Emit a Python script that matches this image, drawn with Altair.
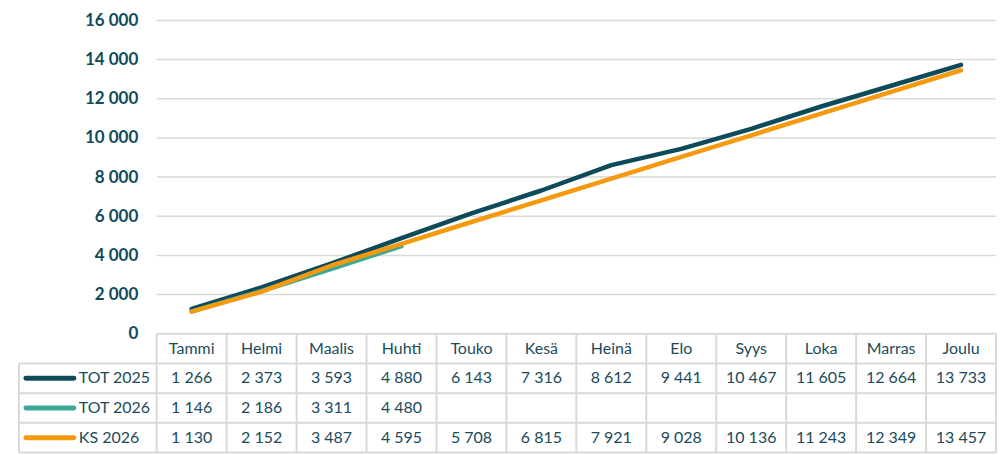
import altair as alt
import pandas as pd

months = ["Tammi", "Helmi", "Maalis", "Huhti", "Touko", "Kesä", "Heinä",
          "Elo", "Syys", "Loka", "Marras", "Joulu"]
tot_2025 = [1266, 2373, 3593, 4880, 6143, 7316, 8612, 9441, 10467, 11605, 12664, 13733]
tot_2026 = [1146, 2186, 3311, 4480]
ks_2026 = [1130, 2152, 3487, 4595, 5708, 6815, 7921, 9028, 10136, 11243, 12349, 13457]
series_names = ["TOT 2025", "TOT 2026", "KS 2026"]
series_colors = ["#0E4B5A", "#3BA897", "#F59A0E"]
y_ticks = [0, 2000, 4000, 6000, 8000, 10000, 12000, 14000, 16000]

# layout
W = 979
LEG_W = 138
COL_W = (W - LEG_W) / 12
XL = -LEG_W / COL_W
PLOT_H = 314
TABLE_H = 119
TXT = "#1A4B5A"
GRID = "#D9D9D9"
FONT = "Lato"


def fmt(v):
    return f"{v:,}".replace(",", " ")


all_series = [tot_2025, tot_2026, ks_2026]
rows = []
for s, (name, vals) in enumerate(zip(series_names, all_series)):
    for i, v in enumerate(vals):
        rows.append(dict(series=name, idx=i + 0.5, value=v, label=fmt(v), row=s + 1.5))
line_df = pd.DataFrame(rows)

x_scale = alt.Scale(domain=[XL, 12], nice=False, zero=False)
color_scale = alt.Scale(domain=series_names, range=series_colors)

y_axis = alt.Axis(values=y_ticks, offset=-LEG_W, labelPadding=19, domain=False, ticks=False,
                  grid=False, title=None, labelExpr="replace(format(datum.value, ','), ',', ' ')",
                  labelFont=FONT, labelFontSize=17, labelFontWeight="bold", labelColor="#0E4B5A")
y_enc = alt.Y("value:Q", scale=alt.Scale(domain=[0, 16000], nice=False), axis=y_axis)

grid_df = pd.DataFrame({"value": y_ticks[1:], "x0": 0, "x1": 12})
grid = alt.Chart(grid_df).mark_rule(color=GRID, strokeWidth=1.5).encode(
    x=alt.X("x0:Q", scale=x_scale, axis=None), x2="x1", y=y_enc)

line_layers = []
for name in series_names:
    line_layers.append(
        alt.Chart(line_df[line_df.series == name]).mark_line(strokeWidth=4.5, strokeCap="round", strokeJoin="round").encode(
            x=alt.X("idx:Q", scale=x_scale, axis=None),
            y=y_enc,
            color=alt.Color("series:N", scale=color_scale, legend=None),
        )
    )

top = alt.layer(grid, *line_layers).properties(width=W, height=PLOT_H)

# table
y_tab = alt.Scale(domain=[0, 4], reverse=True, nice=False, zero=False)
segs = [dict(x=0, x2=12, y=0, y2=0)]
for r in range(1, 5):
    segs.append(dict(x=XL, x2=12, y=r, y2=r))
for k in range(13):
    segs.append(dict(x=k, x2=k, y=0, y2=4))
segs.append(dict(x=XL, x2=XL, y=1, y2=4))
seg_df = pd.DataFrame(segs)

tab_lines = alt.Chart(seg_df).mark_rule(color=GRID, strokeWidth=2).encode(
    x=alt.X("x:Q", scale=x_scale, axis=None), x2="x2",
    y=alt.Y("y:Q", scale=y_tab, axis=None), y2="y2")

month_df = pd.DataFrame({"month": months, "idx": [i + 0.5 for i in range(12)], "row": 0.5})
month_text = alt.Chart(month_df).mark_text(font=FONT, fontSize=16, color=TXT).encode(
    x=alt.X("idx:Q", scale=x_scale, axis=None),
    y=alt.Y("row:Q", scale=y_tab, axis=None), text="month:N")

val_text = alt.Chart(line_df).mark_text(font=FONT, fontSize=16, color=TXT).encode(
    x=alt.X("idx:Q", scale=x_scale, axis=None),
    y=alt.Y("row:Q", scale=y_tab, axis=None), text="label:N")

leg_df = pd.DataFrame({"series": series_names, "row": [1.5, 2.5, 3.5],
                       "sx": (25 - 156) / COL_W, "sx2": (73 - 156) / COL_W,
                       "tx": (78 - 156) / COL_W})
leg_sw = alt.Chart(leg_df).mark_rule(strokeWidth=5, strokeCap="round").encode(
    x=alt.X("sx:Q", scale=x_scale, axis=None), x2="sx2",
    y=alt.Y("row:Q", scale=y_tab, axis=None),
    color=alt.Color("series:N", scale=color_scale, legend=None))
leg_txt = alt.Chart(leg_df).mark_text(font=FONT, fontSize=16, color=TXT, align="left").encode(
    x=alt.X("tx:Q", scale=x_scale, axis=None),
    y=alt.Y("row:Q", scale=y_tab, axis=None), text="series:N")

table = alt.layer(tab_lines, month_text, val_text, leg_sw, leg_txt).properties(width=W, height=TABLE_H)

chart = alt.vconcat(top, table, spacing=0, bounds="flush").properties(
    padding={"left": 10, "top": 3, "right": 0, "bottom": 0}
).configure_view(stroke=None)

chart.save("out.html", embed_options={"renderer": "svg", "actions": False})
